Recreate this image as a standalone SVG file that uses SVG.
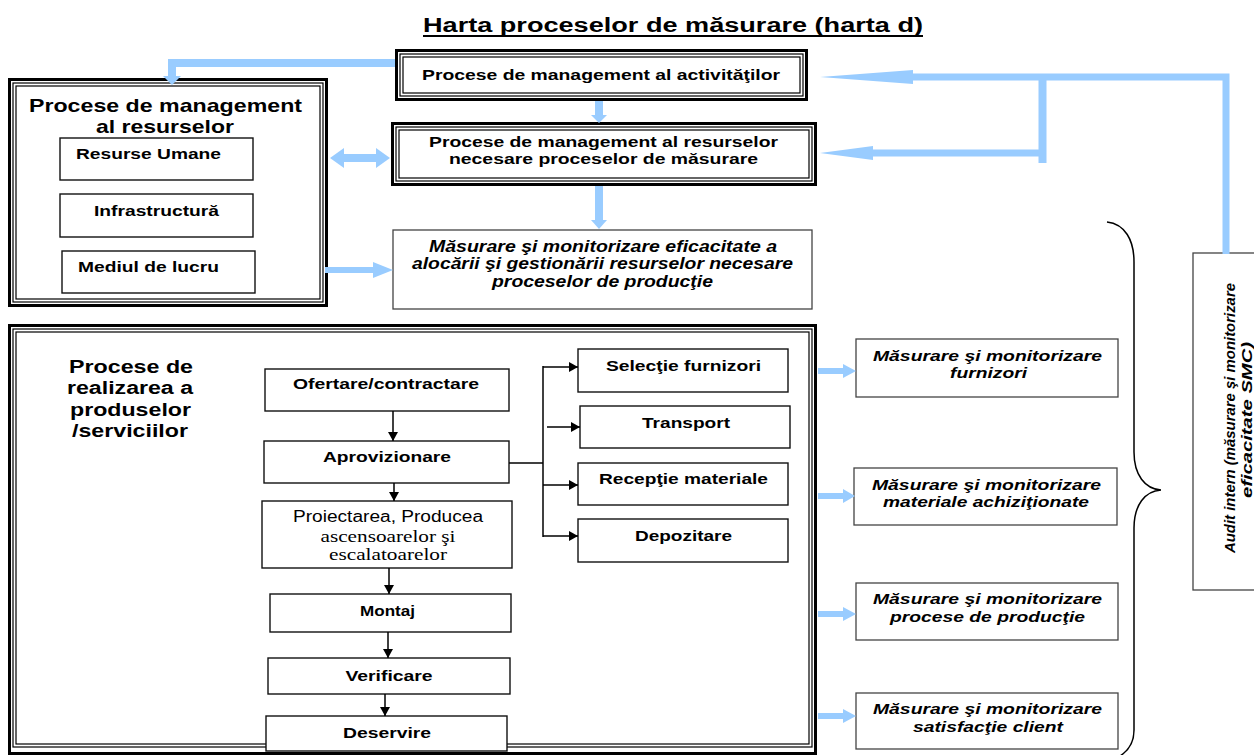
<svg xmlns="http://www.w3.org/2000/svg" width="1254" height="755" viewBox="0 0 1254 755">
  <style>
    text { font-family: "Liberation Sans", Arial, sans-serif; fill: #000; }
    .b { font-weight: bold; }
    .bi { font-weight: bold; font-style: italic; }
    .serif { font-family: "Liberation Serif", "Times New Roman", serif; }
    .thick { fill: none; stroke: #000; stroke-width: 3; }
    .thin { fill: none; stroke: #000; stroke-width: 1.2; }
    .box { fill: #fff; stroke: #111; stroke-width: 1.4; }
    .gbox { fill: #fff; stroke: #444; stroke-width: 1.3; }
    .flow { fill: none; stroke: #000; stroke-width: 1.5; }
    .blue { fill: none; stroke: #99ccff; }
    .bhead { fill: #99ccff; }
  </style>
  <defs>
    <marker id="ah" markerWidth="10" markerHeight="10" refX="9" refY="5" orient="auto" markerUnits="userSpaceOnUse">
      <path d="M0,0 L9,5 L0,10 z" fill="#000"/>
    </marker>
  </defs>

  <!-- heading -->
  <g id="title">
    <text class="b" x="673" y="32" font-size="19.5" text-anchor="middle" textLength="500" lengthAdjust="spacingAndGlyphs">Harta proceselor de măsurare (harta d)</text>
    <line x1="423" y1="36" x2="923" y2="36" stroke="#000" stroke-width="1.8"/>
  </g>

  <!-- Procese de management al activităţilor -->
  <g id="mgmt-activitati">
    <rect x="395" y="49" width="413" height="52" fill="#fff"/>
    <rect class="thick" x="396.5" y="50.5" width="410" height="49"/>
    <rect class="thin" x="400" y="54" width="403" height="42"/>
    <rect class="thin" x="403" y="57" width="397" height="36"/>
    <text class="b" x="601" y="80" font-size="15.5" text-anchor="middle" textLength="358" lengthAdjust="spacingAndGlyphs">Procese de management al activităţilor</text>
  </g>

  <!-- Procese de management al resurselor necesare proceselor de măsurare -->
  <g id="mgmt-resurse-masurare">
    <rect x="391" y="122" width="426" height="64" fill="#fff"/>
    <rect class="thick" x="392.5" y="123.5" width="423" height="61"/>
    <rect class="thin" x="396" y="127" width="416" height="54"/>
    <rect class="thin" x="399" y="130" width="410" height="48"/>
    <text class="b" x="603.5" y="147" font-size="15.5" text-anchor="middle" textLength="349" lengthAdjust="spacingAndGlyphs">Procese de management al resurselor</text>
    <text class="b" x="603.5" y="164" font-size="15.5" text-anchor="middle" textLength="309" lengthAdjust="spacingAndGlyphs">necesare proceselor de măsurare</text>
  </g>

  <!-- Măsurare eficacitate alocare resurse -->
  <g id="masurare-alocare">
    <rect class="gbox" x="393" y="230" width="419" height="79"/>
    <text class="bi" x="603" y="252" font-size="16" text-anchor="middle" textLength="348" lengthAdjust="spacingAndGlyphs">Măsurare şi monitorizare eficacitate a</text>
    <text class="bi" x="602.5" y="269" font-size="16" text-anchor="middle" textLength="381" lengthAdjust="spacingAndGlyphs">alocării şi gestionării resurselor necesare</text>
    <text class="bi" x="602.5" y="287" font-size="16" text-anchor="middle" textLength="221" lengthAdjust="spacingAndGlyphs">proceselor de producţie</text>
  </g>

  <!-- Procese de management al resurselor -->
  <g id="mgmt-resurse">
    <rect x="8" y="78" width="320" height="229" fill="#fff"/>
    <rect class="thick" x="9.5" y="79.5" width="317" height="226"/>
    <rect class="thin" x="13" y="83" width="310" height="219"/>
    <rect class="thin" x="16" y="86" width="304" height="213"/>
    <text class="b" x="165.5" y="112" font-size="18.5" text-anchor="middle" textLength="273" lengthAdjust="spacingAndGlyphs">Procese de management</text>
    <text class="b" x="165" y="133" font-size="18.5" text-anchor="middle" textLength="138" lengthAdjust="spacingAndGlyphs">al resurselor</text>
  </g>
  <g id="resurse-umane">
    <rect class="box" x="60" y="138" width="193" height="42"/>
    <text class="b" x="148.5" y="159" font-size="15" text-anchor="middle" textLength="145" lengthAdjust="spacingAndGlyphs">Resurse Umane</text>
  </g>
  <g id="infrastructura">
    <rect class="box" x="60" y="194" width="193" height="43"/>
    <text class="b" x="156.5" y="216" font-size="15" text-anchor="middle" textLength="125" lengthAdjust="spacingAndGlyphs">Infrastructură</text>
  </g>
  <g id="mediul-de-lucru">
    <rect class="box" x="62" y="251" width="193" height="42"/>
    <text class="b" x="148.5" y="272" font-size="15" text-anchor="middle" textLength="141" lengthAdjust="spacingAndGlyphs">Mediul de lucru</text>
  </g>

  <!-- Procese de realizarea a produselor /serviciilor -->
  <g id="realizare">
    <rect x="8" y="324" width="809" height="431" fill="#fff"/>
    <rect class="thick" x="9.5" y="325.5" width="806" height="428"/>
    <rect class="thin" x="13" y="329" width="799" height="418"/>
    <rect class="thin" x="16" y="332" width="793" height="412"/>
    <text class="b" x="131" y="373" font-size="18" text-anchor="middle" textLength="124" lengthAdjust="spacingAndGlyphs">Procese de</text>
    <text class="b" x="130" y="394" font-size="18" text-anchor="middle" textLength="126" lengthAdjust="spacingAndGlyphs">realizarea a</text>
    <text class="b" x="130.5" y="416" font-size="18" text-anchor="middle" textLength="121" lengthAdjust="spacingAndGlyphs">produselor</text>
    <text class="b" x="130" y="437" font-size="18" text-anchor="middle" textLength="116" lengthAdjust="spacingAndGlyphs">/serviciilor</text>
  </g>

  <!-- process flow -->
  <g id="ofertare">
    <rect class="box" x="265" y="369" width="244" height="42"/>
    <text class="b" x="386" y="389" font-size="15" text-anchor="middle" textLength="186" lengthAdjust="spacingAndGlyphs">Ofertare/contractare</text>
  </g>
  <g id="aprovizionare">
    <rect class="box" x="264" y="441" width="245" height="42"/>
    <text class="b" x="387" y="462" font-size="15" text-anchor="middle" textLength="128" lengthAdjust="spacingAndGlyphs">Aprovizionare</text>
  </g>
  <g id="proiectare">
    <rect class="box" x="262" y="501" width="250" height="67"/>
    <text x="388" y="522" font-size="16" text-anchor="middle" textLength="190" lengthAdjust="spacingAndGlyphs">Proiectarea, Producea</text>
    <text class="serif" x="388" y="542" font-size="17.5" text-anchor="middle" textLength="135" lengthAdjust="spacingAndGlyphs">ascensoarelor şi</text>
    <text class="serif" x="388" y="560" font-size="17.5" text-anchor="middle" textLength="118" lengthAdjust="spacingAndGlyphs">escalatoarelor</text>
  </g>
  <g id="montaj">
    <rect class="box" x="270" y="594" width="241" height="38"/>
    <text class="b" x="387.5" y="616" font-size="15" text-anchor="middle" textLength="55" lengthAdjust="spacingAndGlyphs">Montaj</text>
  </g>
  <g id="verificare">
    <rect class="box" x="268" y="658" width="242" height="36"/>
    <text class="b" x="389" y="681" font-size="15" text-anchor="middle" textLength="87" lengthAdjust="spacingAndGlyphs">Verificare</text>
  </g>
  <g id="deservire">
    <rect class="box" x="266" y="716" width="241" height="35"/>
    <text class="b" x="387" y="738" font-size="15" text-anchor="middle" textLength="88" lengthAdjust="spacingAndGlyphs">Deservire</text>
  </g>

  <!-- supply branch -->
  <g id="selectie-furnizori">
    <rect class="box" x="578" y="349" width="210" height="43"/>
    <text class="b" x="683.5" y="371" font-size="15" text-anchor="middle" textLength="155" lengthAdjust="spacingAndGlyphs">Selecţie furnizori</text>
  </g>
  <g id="transport">
    <rect class="box" x="580" y="406" width="210" height="42"/>
    <text class="b" x="686" y="428" font-size="15" text-anchor="middle" textLength="88" lengthAdjust="spacingAndGlyphs">Transport</text>
  </g>
  <g id="receptie-materiale">
    <rect class="box" x="578" y="463" width="210" height="42"/>
    <text class="b" x="683.5" y="484" font-size="15" text-anchor="middle" textLength="169" lengthAdjust="spacingAndGlyphs">Recepţie materiale</text>
  </g>
  <g id="depozitare">
    <rect class="box" x="578" y="519" width="210" height="43"/>
    <text class="b" x="683.5" y="541" font-size="15" text-anchor="middle" textLength="97" lengthAdjust="spacingAndGlyphs">Depozitare</text>
  </g>

  <!-- measurement boxes -->
  <g id="masurare-furnizori">
    <rect class="gbox" x="856" y="339" width="262" height="58"/>
    <text class="bi" x="987.5" y="361" font-size="15" text-anchor="middle" textLength="229" lengthAdjust="spacingAndGlyphs">Măsurare şi monitorizare</text>
    <text class="bi" x="988.5" y="378" font-size="15" text-anchor="middle" textLength="77" lengthAdjust="spacingAndGlyphs">furnizori</text>
  </g>
  <g id="masurare-materiale">
    <rect class="gbox" x="854" y="468" width="263" height="57"/>
    <text class="bi" x="986.5" y="490" font-size="15" text-anchor="middle" textLength="229" lengthAdjust="spacingAndGlyphs">Măsurare şi monitorizare</text>
    <text class="bi" x="986" y="507" font-size="15" text-anchor="middle" textLength="206" lengthAdjust="spacingAndGlyphs">materiale achiziţionate</text>
  </g>
  <g id="masurare-productie">
    <rect class="gbox" x="856" y="583" width="262" height="57"/>
    <text class="bi" x="987.5" y="604" font-size="15" text-anchor="middle" textLength="229" lengthAdjust="spacingAndGlyphs">Măsurare şi monitorizare</text>
    <text class="bi" x="987.5" y="622" font-size="15" text-anchor="middle" textLength="195" lengthAdjust="spacingAndGlyphs">procese de producţie</text>
  </g>
  <g id="masurare-client">
    <rect class="gbox" x="856" y="693" width="262" height="56"/>
    <text class="bi" x="987.5" y="714" font-size="15" text-anchor="middle" textLength="229" lengthAdjust="spacingAndGlyphs">Măsurare şi monitorizare</text>
    <text class="bi" x="988" y="732" font-size="15" text-anchor="middle" textLength="150" lengthAdjust="spacingAndGlyphs">satisfacţie client</text>
  </g>

  <!-- brace grouping the measurement boxes -->
  <g id="brace">
    <path d="M1107,222 C1125,224 1134,240 1134,262 L1134,452 C1134,475 1145,489 1161,490 C1145,491 1134,505 1134,528 L1134,730 C1134,742 1128,751 1120,756" fill="none" stroke="#000" stroke-width="1.5"/>
  </g>

  <!-- internal audit -->
  <g id="audit-intern">
    <rect class="gbox" x="1193" y="253" width="70" height="337"/>
    <text class="bi" transform="translate(1235,418) rotate(-90)" font-size="15" text-anchor="middle" textLength="270" lengthAdjust="spacingAndGlyphs">Audit intern (măsurare şi monitorizare</text>
    <text class="bi" transform="translate(1252,420) rotate(-90)" font-size="15" text-anchor="middle" textLength="156" lengthAdjust="spacingAndGlyphs">eficacitate SMC)</text>
  </g>

  <!-- black flow connectors -->
  <g id="connectors-flow">
    <line class="flow" x1="393" y1="411" x2="393" y2="441" marker-end="url(#ah)"/>
    <line class="flow" x1="394" y1="483" x2="394" y2="501" marker-end="url(#ah)"/>
    <line class="flow" x1="389" y1="568" x2="389" y2="594" marker-end="url(#ah)"/>
    <line class="flow" x1="388" y1="632" x2="388" y2="658" marker-end="url(#ah)"/>
    <line class="flow" x1="385" y1="694" x2="385" y2="716" marker-end="url(#ah)"/>
    <polyline class="flow" points="509,463 543,463"/>
    <line class="flow" x1="543" y1="366" x2="543" y2="537"/>
    <line class="flow" x1="543" y1="367" x2="578" y2="367" marker-end="url(#ah)"/>
    <line class="flow" x1="547" y1="427" x2="580" y2="427" marker-end="url(#ah)"/>
    <line class="flow" x1="543" y1="485" x2="578" y2="485" marker-end="url(#ah)"/>
    <line class="flow" x1="543" y1="536" x2="578" y2="536" marker-end="url(#ah)"/>
  </g>

  <!-- blue connectors -->
  <g id="connectors-blue">
    <!-- activities -> resources block -->
    <path class="blue" d="M395,63 H172 V77" stroke-width="8"/>
    <polygon class="bhead" points="163,76 181,76 172,85"/>
    <!-- activities -> resources for measurement -->
    <path class="blue" d="M599,101 V116" stroke-width="8"/>
    <polygon class="bhead" points="591,115 607,115 599,123"/>
    <!-- resources for measurement -> allocation efficiency -->
    <path class="blue" d="M599,186 V221" stroke-width="8"/>
    <polygon class="bhead" points="591,220 607,220 599,229"/>
    <!-- double arrow between resource blocks -->
    <path class="blue" d="M342,158 H378" stroke-width="8"/>
    <polygon class="bhead" points="330,158 344,148 344,168"/>
    <polygon class="bhead" points="390,158 376,148 376,168"/>
    <!-- work environment -> allocation efficiency -->
    <path class="blue" d="M325,270 H374" stroke-width="6"/>
    <polygon class="bhead" points="373,262 373,278 393,270"/>
    <!-- internal audit feedback -->
    <path class="blue" d="M1226,254 V77 H912" stroke-width="7"/>
    <polygon class="bhead" points="820,77 913,70 913,84"/>
    <path class="blue" d="M1042.5,77 V163" stroke-width="8"/>
    <path class="blue" d="M1046,153 H872" stroke-width="7"/>
    <polygon class="bhead" points="820,153 873,146 873,160"/>
    <!-- realisation processes -> measurement boxes -->
    <path class="blue" d="M818,371 H845" stroke-width="6"/>
    <polygon class="bhead" points="843,364 856,371 843,378"/>
    <path class="blue" d="M818,496 H845" stroke-width="6"/>
    <polygon class="bhead" points="843,489 855,496 843,503"/>
    <path class="blue" d="M818,614 H845" stroke-width="6"/>
    <polygon class="bhead" points="843,607 856,614 843,621"/>
    <path class="blue" d="M818,716 H845" stroke-width="6"/>
    <polygon class="bhead" points="843,709 856,716 843,723"/>
  </g>
</svg>
